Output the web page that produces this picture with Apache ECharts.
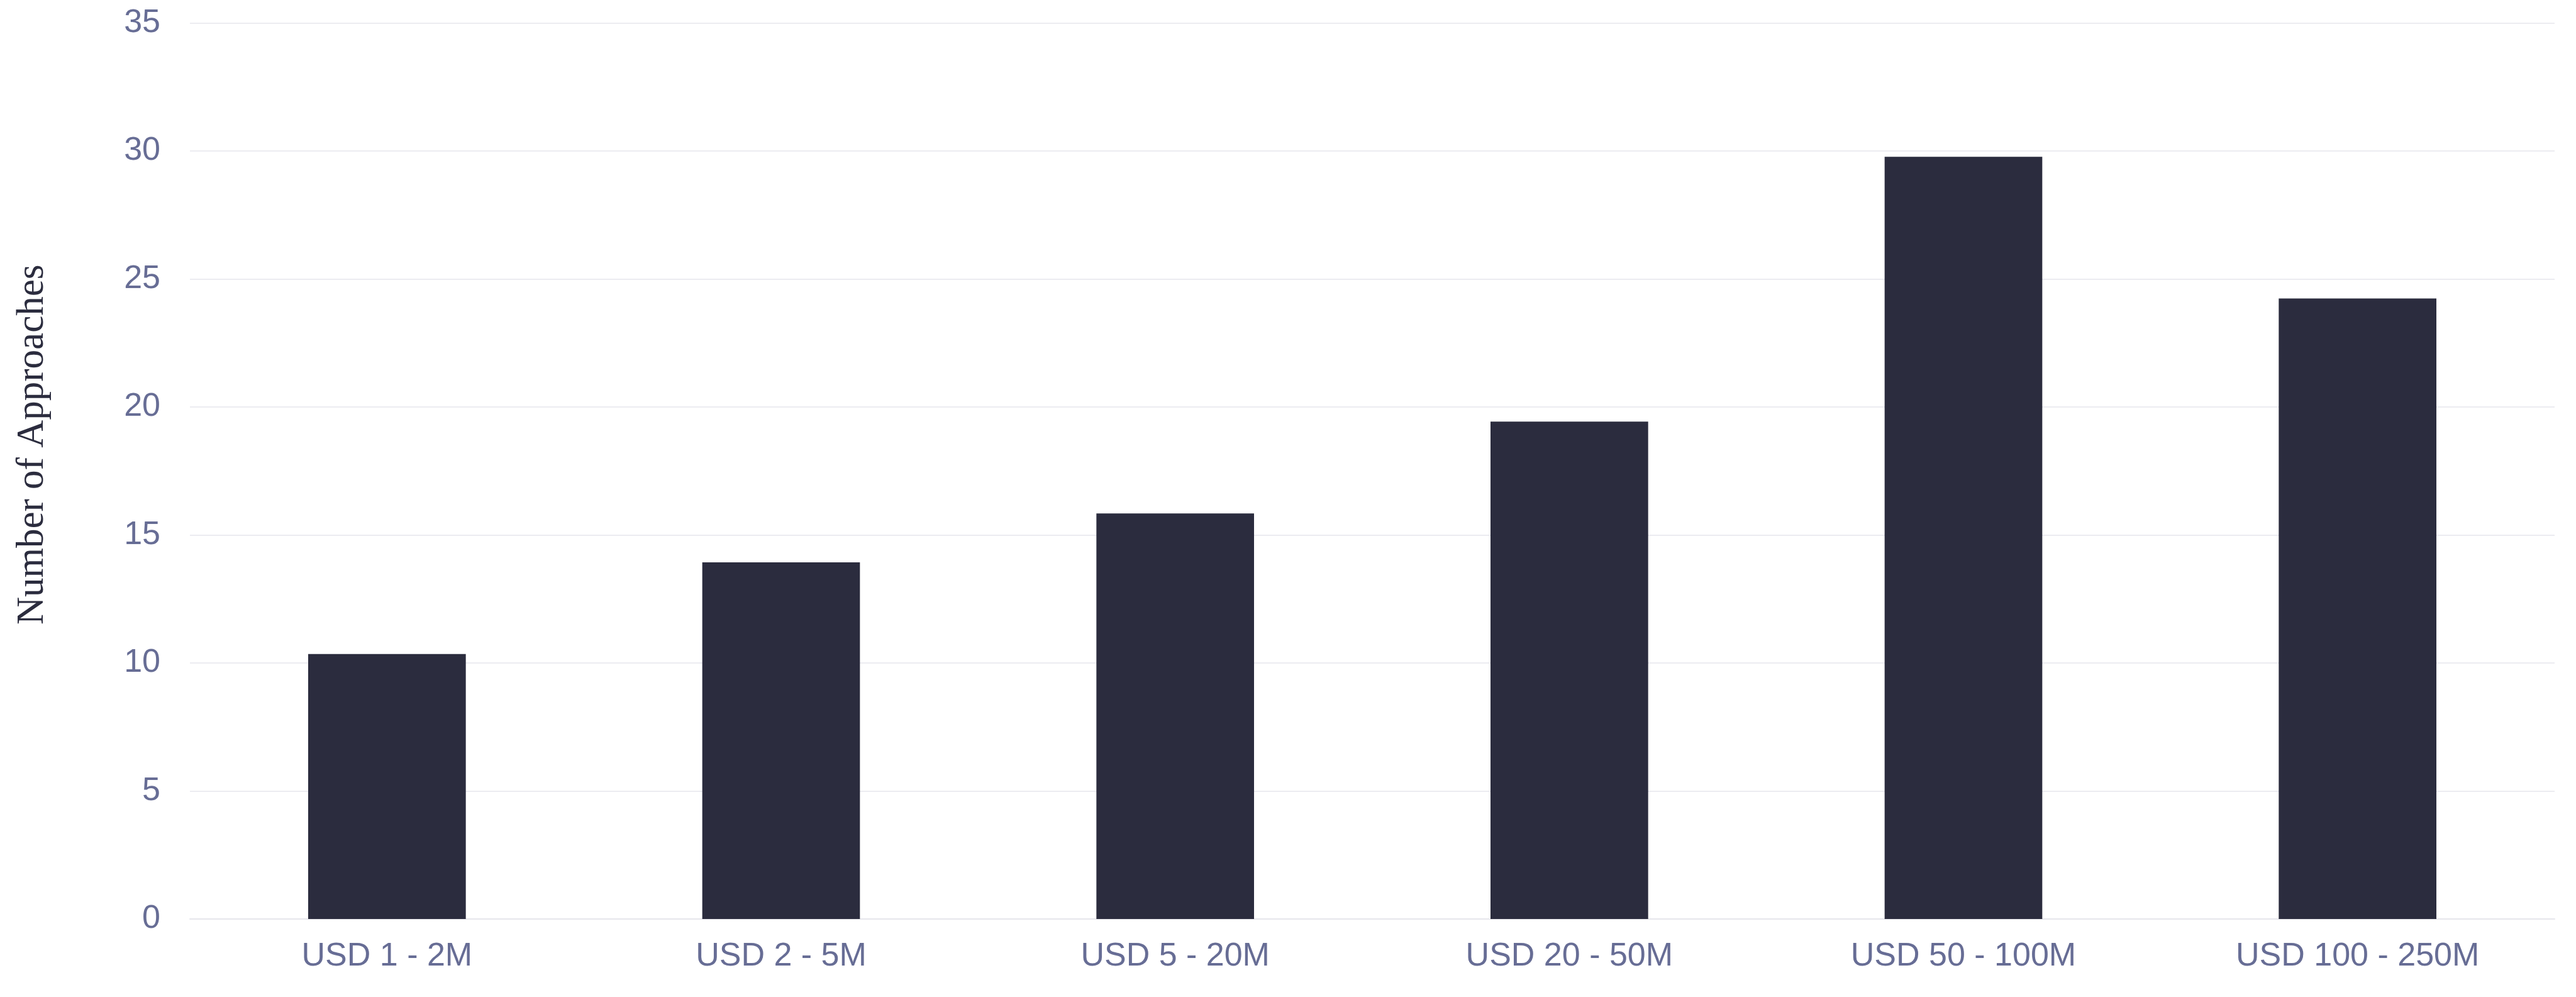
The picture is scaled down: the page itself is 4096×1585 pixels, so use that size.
<!DOCTYPE html>
<html>
<head>
<meta charset="utf-8">
<style>
html,body{margin:0;padding:0;background:#ffffff;}
#chart{width:4096px;height:1585px;}
</style>
<script src="https://cdn.jsdelivr.net/npm/echarts@6/dist/echarts.min.js"></script>
</head>
<body>
<div id="chart"></div>
<script>
const categories = ['USD 1 - 2M', 'USD 2 - 5M', 'USD 5 - 20M', 'USD 20 - 50M', 'USD 50 - 100M', 'USD 100 - 250M'];
const approaches = [10.35, 13.93, 15.84, 19.43, 29.77, 24.24];
const yTicks = { min: 0, max: 35, interval: 5 };
const yTitle = 'Number of Approaches';

const chart = echarts.init(document.getElementById('chart'), null, { renderer: 'canvas' });
chart.setOption({
  backgroundColor: '#ffffff',
  animation: false,
  grid: { left: 302, right: 34, top: 36.5, bottom: 124, containLabel: false },
  xAxis: {
    type: 'category',
    data: categories,
    axisLine: { show: true, lineStyle: { color: '#e6e6ec', width: 2 } },
    axisTick: { show: false },
    axisLabel: { color: '#676d95', fontFamily: 'Liberation Sans, Arial, sans-serif', fontSize: 52, margin: 34 }
  },
  yAxis: {
    type: 'value',
    min: yTicks.min, max: yTicks.max, interval: yTicks.interval,
    name: yTitle,
    nameLocation: 'middle',
    nameRotate: 90,
    nameGap: 220,
    nameTextStyle: { color: '#2b2c3e', fontFamily: 'Liberation Serif, Times New Roman, serif', fontSize: 61, padding: [0, 0, 0, 84] },
    axisLine: { show: false },
    axisTick: { show: false },
    splitLine: { show: true, lineStyle: { color: '#ececf1', width: 2 } },
    axisLabel: { color: '#676d95', fontFamily: 'Liberation Sans, Arial, sans-serif', fontSize: 52, margin: 47 }
  },
  series: [{
    type: 'bar',
    data: approaches,
    barWidth: '40%',
    itemStyle: { color: '#2b2c3e' }
  }]
});
</script>
</body>
</html>
